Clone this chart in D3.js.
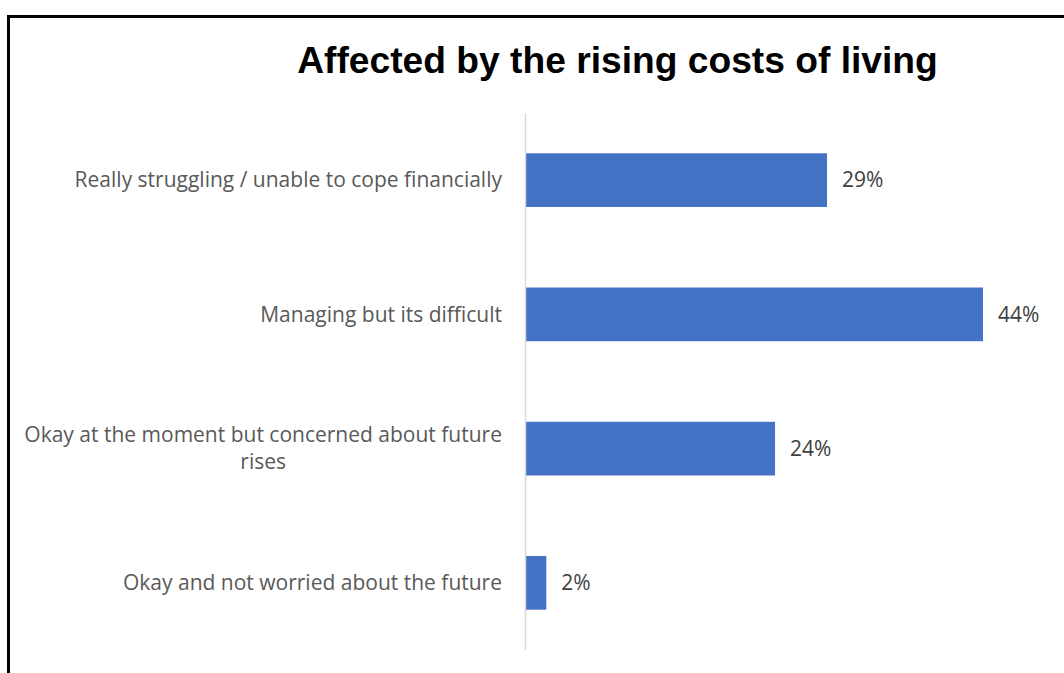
<!DOCTYPE html>
<html>
<head>
<meta charset="utf-8">
<script src="https://cdn.jsdelivr.net/npm/d3@7"></script>
<style>
  html, body { margin: 0; padding: 0; background: #fff; }
  svg { display: block; }
</style>
</head>
<body>
<svg id="chart" width="1064" height="673"></svg>
<script>
// Survey responses: how people are affected by the rising cost of living
const categories = [
  ["Really struggling / unable to cope financially"],
  ["Managing but its difficult"],
  ["Okay at the moment but concerned about future", "rises"],
  ["Okay and not worried about the future"]
];
const values = [29, 44, 24, 2];
const titleText = "Affected by the rising costs of living";

const svg = d3.select("#chart");
const W = 1064, H = 673;
const labelFont = "'Open Sans', 'Noto Sans', sans-serif";
const labelSize = 21;

// frame around the chart area
svg.append("rect")
  .attr("x", 8.5).attr("y", 16.5)
  .attr("width", W + 10).attr("height", H + 10)
  .attr("fill", "none").attr("stroke", "#000").attr("stroke-width", 3);

svg.append("text")
  .attr("x", 617.5).attr("y", 73)
  .attr("text-anchor", "middle")
  .attr("font-family", "'Liberation Sans', Arial, sans-serif")
  .attr("font-weight", "bold")
  .attr("font-size", 37.2)
  .attr("fill", "#000")
  .text(titleText);

const x0 = 525.5;
const x = d3.scaleLinear().domain([0, 44]).range([x0, 983]);
const idx = d3.range(values.length);
const y = d3.scaleBand().domain(idx).range([113, 650]).paddingInner(0.6).paddingOuter(0.3);

// bars
svg.append("g").selectAll("rect")
  .data(idx)
  .join("rect")
  .attr("x", x(0))
  .attr("y", i => y(i))
  .attr("width", i => x(values[i]) - x(0))
  .attr("height", y.bandwidth())
  .attr("fill", "#4472C4");

// category axis line
svg.append("line")
  .attr("x1", x0).attr("x2", x0)
  .attr("y1", 113).attr("y2", 650)
  .attr("stroke", "#D9D9D9").attr("stroke-width", 1.5);

// value labels
svg.append("g").selectAll("text")
  .data(idx)
  .join("text")
  .attr("x", i => x(values[i]) + 15)
  .attr("y", i => y(i) + y.bandwidth() / 2)
  .attr("dy", "0.35em")
  .attr("font-family", labelFont)
  .attr("font-size", labelSize)
  .attr("fill", "#404040")
  .text(i => values[i] + "%");

// category labels (wrapped lines centred on the first line)
const labelRight = 502;
const lineGap = 27;
idx.forEach(i => {
  const lines = categories[i];
  const cy = y(i) + y.bandwidth() / 2;
  const top = cy - (lines.length - 1) * lineGap / 2;
  const g = svg.append("g");
  const first = g.append("text")
    .attr("x", labelRight)
    .attr("y", top)
    .attr("dy", "0.35em")
    .attr("text-anchor", "end")
    .attr("font-family", labelFont)
    .attr("font-size", labelSize)
    .attr("fill", "#595959")
    .text(lines[0]);
  const w = first.node().getComputedTextLength();
  lines.slice(1).forEach((ln, k) => {
    g.append("text")
      .attr("x", labelRight - w / 2)
      .attr("y", top + (k + 1) * lineGap)
      .attr("dy", "0.35em")
      .attr("text-anchor", "middle")
      .attr("font-family", labelFont)
      .attr("font-size", labelSize)
      .attr("fill", "#595959")
      .text(ln);
  });
});
</script>
</body>
</html>
